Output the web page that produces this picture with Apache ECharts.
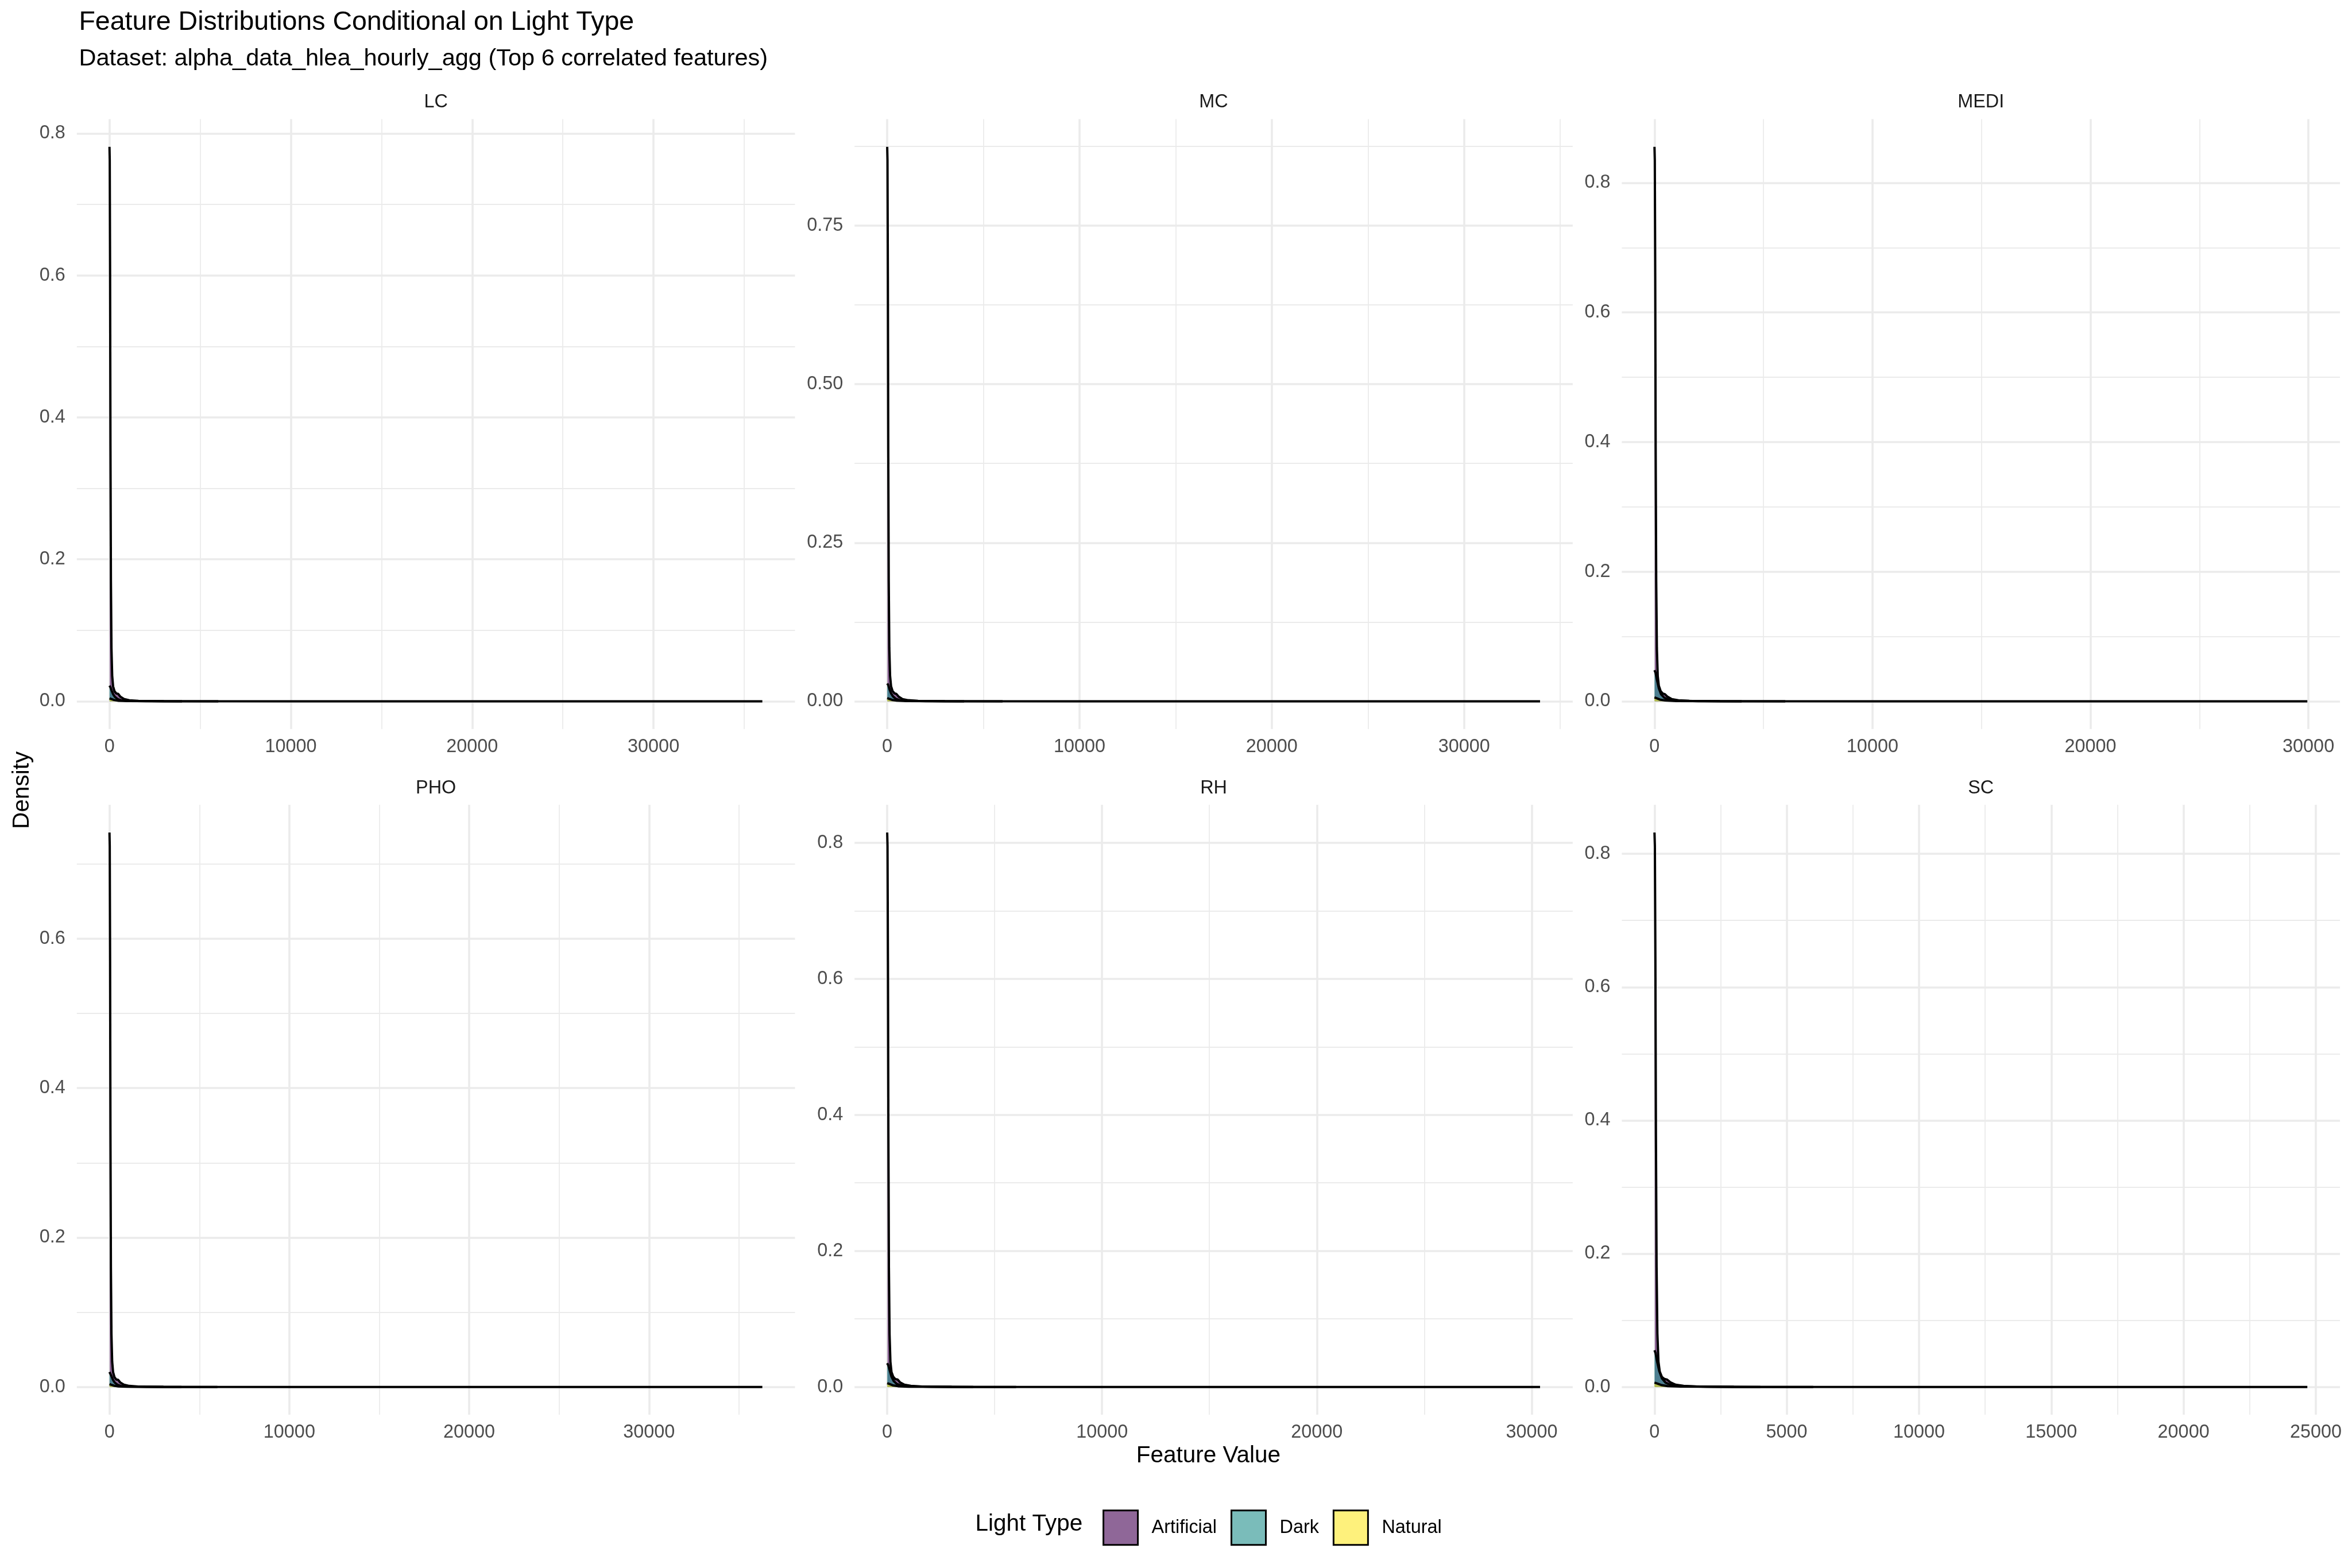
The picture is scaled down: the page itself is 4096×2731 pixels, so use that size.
<!DOCTYPE html>
<html>
<head>
<meta charset="utf-8">
<script src="https://cdn.jsdelivr.net/npm/echarts@6/dist/echarts.min.js"></script>
<style>
html,body{margin:0;padding:0;background:#ffffff;}
#chart{width:4096px;height:2731px;}
</style>
</head>
<body>
<div id="chart"></div>
<script>
// ---------------- DATA ----------------
const panelNames = ['LC', 'MC', 'MEDI', 'PHO', 'RH', 'SC'];
const groupNames = ['Artificial', 'Dark', 'Natural'];

// density curves [feature value, density]
const lcArtificial = [[0,0.781],[15,0.762],[35,0.60],[55,0.36],[80,0.17],[110,0.075],[150,0.036],[200,0.021],[280,0.014],[380,0.011],[480,0.0105],[600,0.0065],[800,0.0032],[1100,0.0015],[1600,0.0006],[3000,0.0002],[6000,0]];
const lcDark = [[0,0.022],[50,0.020],[120,0.015],[200,0.010],[300,0.0062],[450,0.0031],[650,0.0015],[1000,0.0006],[2000,0.0002],[4000,0]];
const lcNatural = [[0,0.0042],[100,0.0033],[250,0.0019],[500,0.0008],[1000,0.0003],[3000,0.0001],[10000,0.00003],[36000,0]];

const mcArtificial = [[0,0.874],[15,0.853],[35,0.67],[55,0.40],[80,0.19],[110,0.084],[150,0.040],[200,0.024],[280,0.016],[380,0.0125],[480,0.0115],[600,0.0072],[800,0.0035],[1100,0.0017],[1600,0.0007],[3000,0.0002],[6000,0]];
const mcDark = [[0,0.028],[50,0.026],[120,0.019],[200,0.0125],[300,0.0078],[450,0.0039],[650,0.0019],[1000,0.0008],[2000,0.0002],[4000,0]];
const mcNatural = [[0,0.005],[100,0.004],[250,0.0023],[500,0.001],[1000,0.0004],[3000,0.00012],[10000,0.00003],[33950,0]];

const mediArtificial = [[0,0.8555],[15,0.835],[35,0.655],[55,0.39],[80,0.185],[110,0.082],[150,0.039],[200,0.024],[280,0.016],[380,0.012],[480,0.011],[600,0.007],[800,0.0034],[1100,0.0016],[1600,0.0007],[3000,0.0002],[6000,0]];
const mediDark = [[0,0.048],[50,0.044],[120,0.032],[200,0.020],[300,0.011],[450,0.0055],[650,0.0026],[1000,0.001],[2000,0.0003],[4000,0]];
const mediNatural = [[0,0.006],[100,0.0048],[250,0.0027],[500,0.0012],[1000,0.0004],[3000,0.00012],[10000,0.00003],[29950,0]];

const phoArtificial = [[0,0.742],[15,0.724],[35,0.57],[55,0.34],[80,0.16],[110,0.071],[150,0.034],[200,0.02],[280,0.013],[380,0.010],[480,0.0095],[600,0.006],[800,0.003],[1100,0.0014],[1600,0.0006],[3000,0.0002],[6000,0]];
const phoDark = [[0,0.020],[50,0.0185],[120,0.014],[200,0.0092],[300,0.0057],[450,0.0029],[650,0.0014],[1000,0.0006],[2000,0.0002],[4000,0]];
const phoNatural = [[0,0.0038],[100,0.003],[250,0.0017],[500,0.0007],[1000,0.0003],[3000,0.0001],[10000,0.00003],[36300,0]];

const rhArtificial = [[0,0.815],[15,0.795],[35,0.625],[55,0.375],[80,0.175],[110,0.078],[150,0.037],[200,0.022],[280,0.015],[380,0.0115],[480,0.011],[600,0.0068],[800,0.0033],[1100,0.0016],[1600,0.0006],[3000,0.0002],[6000,0]];
const rhDark = [[0,0.035],[50,0.032],[120,0.024],[200,0.015],[300,0.0088],[450,0.0044],[650,0.0021],[1000,0.0009],[2000,0.0003],[4000,0]];
const rhNatural = [[0,0.0055],[100,0.0044],[250,0.0025],[500,0.0011],[1000,0.0004],[3000,0.00012],[10000,0.00003],[30390,0]];

const scArtificial = [[0,0.832],[15,0.812],[35,0.64],[55,0.38],[80,0.18],[110,0.08],[150,0.038],[200,0.023],[280,0.015],[380,0.012],[480,0.011],[600,0.007],[800,0.0034],[1100,0.0016],[1600,0.0007],[3000,0.0002],[6000,0]];
const scDark = [[0,0.055],[40,0.051],[100,0.038],[180,0.024],[280,0.013],[420,0.0065],[620,0.003],[950,0.0012],[2000,0.0003],[4000,0]];
const scNatural = [[0,0.0065],[100,0.0052],[250,0.003],[500,0.0013],[1000,0.0005],[3000,0.00014],[10000,0.00003],[24680,0]];

// tick values (major labelled, minor unlabelled)
const lcXTicks = [0,10000,20000,30000];          const lcXMinor = [5000,15000,25000,35000];
const mcXTicks = [0,10000,20000,30000];          const mcXMinor = [5000,15000,25000,35000];
const mediXTicks = [0,10000,20000,30000];        const mediXMinor = [5000,15000,25000];
const phoXTicks = [0,10000,20000,30000];         const phoXMinor = [5000,15000,25000,35000];
const rhXTicks = [0,10000,20000,30000];          const rhXMinor = [5000,15000,25000];
const scXTicks = [0,5000,10000,15000,20000,25000]; const scXMinor = [2500,7500,12500,17500,22500];

const lcYTicks = [0,0.2,0.4,0.6,0.8];     const lcYMinor = [0.1,0.3,0.5,0.7];
const mcYTicks = [0,0.25,0.5,0.75];       const mcYMinor = [0.125,0.375,0.625,0.875];
const mediYTicks = [0,0.2,0.4,0.6,0.8];   const mediYMinor = [0.1,0.3,0.5,0.7];
const phoYTicks = [0,0.2,0.4,0.6];        const phoYMinor = [0.1,0.3,0.5,0.7];
const rhYTicks = [0,0.2,0.4,0.6,0.8];     const rhYMinor = [0.1,0.3,0.5,0.7];
const scYTicks = [0,0.2,0.4,0.6,0.8];     const scYMinor = [0.1,0.3,0.5,0.7];
const yLabelDecimals = [1,2,1,1,1,1];

const titleText = 'Feature Distributions Conditional on Light Type';
const subtitleText = 'Dataset: alpha_data_hlea_hourly_agg (Top 6 correlated features)';
const xTitleText = 'Feature Value';
const yTitleText = 'Density';
const legendTitleText = 'Light Type';

// ---------------- ASSEMBLY ----------------
const panelCurves = [
  [lcArtificial, lcDark, lcNatural],
  [mcArtificial, mcDark, mcNatural],
  [mediArtificial, mediDark, mediNatural],
  [phoArtificial, phoDark, phoNatural],
  [rhArtificial, rhDark, rhNatural],
  [scArtificial, scDark, scNatural]
];
const panelXTicks = [lcXTicks, mcXTicks, mediXTicks, phoXTicks, rhXTicks, scXTicks];
const panelXMinor = [lcXMinor, mcXMinor, mediXMinor, phoXMinor, rhXMinor, scXMinor];
const panelYTicks = [lcYTicks, mcYTicks, mediYTicks, phoYTicks, rhYTicks, scYTicks];
const panelYMinor = [lcYMinor, mcYMinor, mediYMinor, phoYMinor, rhYMinor, scYMinor];

// ---------------- LAYOUT / STYLE ----------------
const S = 4096 / 4500;
const colLeft = [147, 1635, 3103];
const rowTop = [228, 1540];
const PW = 1374, PH = 1167;
const FONT = '"Liberation Sans", Arial, Helvetica, sans-serif';
const fillColors = ['#440154', '#21908C', '#FDE725'];
const legendFill = ['rgba(68,1,84,0.6)', 'rgba(33,144,140,0.6)', 'rgba(253,231,37,0.6)'];
const smallFont = 32.4, baseFont = 40.5, titleFont = 46.5, subtitleFont = 41.5;
const gridColor = '#EBEBEB';

const grids = [], xAxes = [], yAxes = [], series = [], graphics = [];

panelNames.forEach((name, i) => {
  const col = i % 3, row = Math.floor(i / 3);
  grids.push({
    left: colLeft[col] * S, top: rowTop[row] * S, width: PW * S, height: PH * S,
    containLabel: false, outerBoundsMode: 'none', show: false
  });
  const pts = panelCurves[i].flat();
  const xs = pts.map(p => p[0]), ys = pts.map(p => p[1]);
  const xmin = Math.min(...xs), xmax = Math.max(...xs);
  const ymin = Math.min(...ys), ymax = Math.max(...ys);
  const xr = xmax - xmin, yr = ymax - ymin;
  const xlo = xmin - 0.05 * xr, xhi = xmax + 0.05 * xr;
  const ylo = ymin - 0.05 * yr, yhi = ymax + 0.05 * yr;
  const dec = yLabelDecimals[i];

  xAxes.push({
    gridIndex: i, type: 'value', position: 'bottom', min: xlo, max: xhi,
    axisLine: { show: false }, axisTick: { show: false, customValues: panelXTicks[i] },
    axisLabel: { customValues: panelXTicks[i], formatter: v => String(Math.round(v)),
      color: '#4D4D4D', fontSize: smallFont, fontFamily: FONT, margin: 15 },
    splitLine: { show: true, lineStyle: { color: gridColor, width: 3.6 } }
  });
  xAxes.push({
    gridIndex: i, type: 'value', position: 'top', min: xlo, max: xhi,
    axisLine: { show: false }, axisTick: { show: false, customValues: panelXMinor[i] },
    axisLabel: { show: false },
    splitLine: { show: true, lineStyle: { color: gridColor, width: 1.8 } }
  });
  yAxes.push({
    gridIndex: i, type: 'value', position: 'left', min: ylo, max: yhi,
    axisLine: { show: false }, axisTick: { show: false, customValues: panelYTicks[i] },
    axisLabel: { customValues: panelYTicks[i], formatter: v => v.toFixed(dec),
      color: '#4D4D4D', fontSize: smallFont, fontFamily: FONT, margin: 20 },
    splitLine: { show: true, lineStyle: { color: gridColor, width: 3.6 } }
  });
  yAxes.push({
    gridIndex: i, type: 'value', position: 'right', min: ylo, max: yhi,
    axisLine: { show: false }, axisTick: { show: false, customValues: panelYMinor[i] },
    axisLabel: { show: false },
    splitLine: { show: true, lineStyle: { color: gridColor, width: 1.8 } }
  });

  panelCurves[i].forEach((curve, k) => {
    series.push({
      type: 'line', name: groupNames[k],
      xAxisIndex: 2 * i, yAxisIndex: 2 * i,
      data: curve, showSymbol: false, symbol: 'none', smooth: false,
      color: fillColors[k],
      lineStyle: { color: '#000000', width: 4 },
      itemStyle: { color: fillColors[k] },
      areaStyle: { color: fillColors[k], opacity: 0.6 },
      silent: true, animation: false, z: 2 + k
    });
  });

  // strip label
  graphics.push({
    type: 'text', x: (colLeft[col] + PW / 2) * S, y: (rowTop[row] - 32) * S,
    style: { text: name, fontSize: smallFont, fontFamily: FONT, fill: '#1A1A1A',
      align: 'center', verticalAlign: 'middle', textAlign: 'center', textVerticalAlign: 'middle' }
  });
});

graphics.push(
  { type: 'text', x: 151 * S, y: 43 * S,
    style: { text: titleText, fontSize: titleFont, fontFamily: FONT, fill: '#000',
      align: 'left', verticalAlign: 'middle', textAlign: 'left', textVerticalAlign: 'middle' } },
  { type: 'text', x: 151 * S, y: 113 * S,
    style: { text: subtitleText, fontSize: subtitleFont, fontFamily: FONT, fill: '#000',
      align: 'left', verticalAlign: 'middle', textAlign: 'left', textVerticalAlign: 'middle' } },
  { type: 'text', x: 2312 * S, y: 2786 * S,
    style: { text: xTitleText, fontSize: baseFont, fontFamily: FONT, fill: '#000',
      align: 'center', verticalAlign: 'middle', textAlign: 'center', textVerticalAlign: 'middle' } },
  { type: 'text', x: 43 * S, y: 1512 * S, rotation: Math.PI / 2,
    style: { text: yTitleText, fontSize: baseFont, fontFamily: FONT, fill: '#000',
      align: 'center', verticalAlign: 'middle', textAlign: 'center', textVerticalAlign: 'middle' } },
  { type: 'text', x: 1866 * S, y: 2917 * S,
    style: { text: legendTitleText, fontSize: baseFont, fontFamily: FONT, fill: '#000',
      align: 'left', verticalAlign: 'middle', textAlign: 'left', textVerticalAlign: 'middle' } }
);

const chart = echarts.init(document.getElementById('chart'), null, { renderer: 'canvas', width: 4096, height: 2731 });
chart.setOption({
  animation: false,
  backgroundColor: '#ffffff',
  grid: grids,
  xAxis: xAxes,
  yAxis: yAxes,
  series: series,
  graphic: { elements: graphics },
  legend: {
    left: 2104 * S, top: 2883 * S, orient: 'horizontal',
    itemWidth: 60, itemHeight: 60, itemGap: 24, selectedMode: false,
    icon: 'rect',
    data: groupNames.map((n, k) => ({
      name: n, icon: 'rect',
      itemStyle: { color: legendFill[k], borderColor: '#000000', borderWidth: 3, opacity: 1 }
    })),
    textStyle: { fontSize: smallFont, fontFamily: FONT, color: '#000', padding: [0, 0, 0, 19] }
  }
});
</script>
</body>
</html>
